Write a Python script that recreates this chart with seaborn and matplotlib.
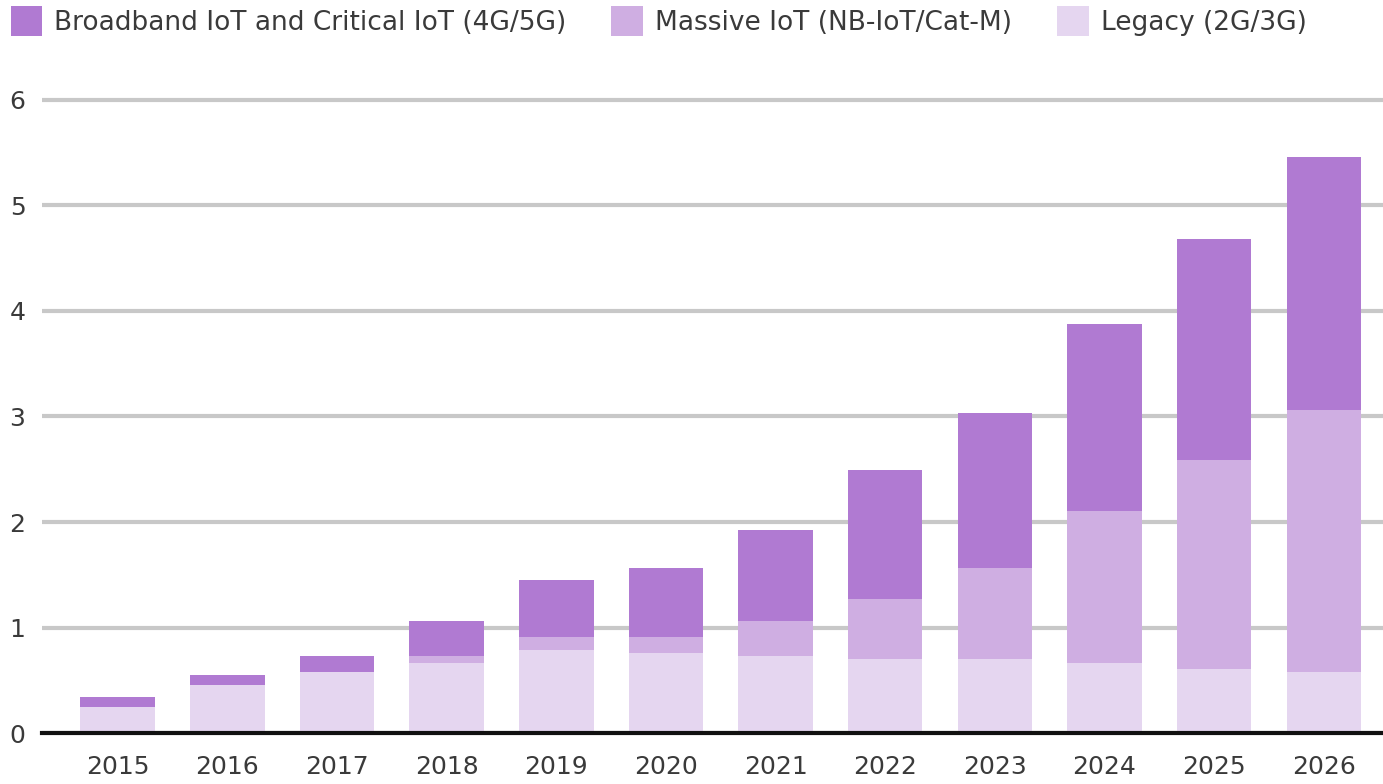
import numpy as np
import pandas as pd
import seaborn as sns
import matplotlib.pyplot as plt
from matplotlib.patches import Patch

years = ["2015", "2016", "2017", "2018", "2019", "2020",
         "2021", "2022", "2023", "2024", "2025", "2026"]
legacy = [0.25, 0.455, 0.58, 0.66, 0.79, 0.76, 0.73, 0.70, 0.70, 0.66, 0.61, 0.58]
massive = [0.0, 0.0, 0.0, 0.07, 0.12, 0.15, 0.33, 0.57, 0.86, 1.44, 1.98, 2.48]
broadband = [0.09, 0.095, 0.15, 0.33, 0.54, 0.65, 0.86, 1.22, 1.47, 1.78, 2.09, 2.40]

labels = ["Broadband IoT and Critical IoT (4G/5G)",
          "Massive IoT (NB-IoT/Cat-M)",
          "Legacy (2G/3G)"]
colors = ["#b07ad2", "#cfaee2", "#e5d6f0"]
text_color = "#3a3a3a"

df = pd.DataFrame({"year": years, "legacy": legacy,
                   "massive": massive, "broadband": broadband})
df["mid"] = df["legacy"] + df["massive"]
df["total"] = df["mid"] + df["broadband"]

sns.set_style("white")
plt.rcParams["font.family"] = ["DejaVu Sans"]

fig = plt.figure(figsize=(13.83, 7.84), dpi=100)
ax = fig.add_axes([0.0304, 0.065, 0.9696, 0.821])

# stacked bars: draw cumulative totals from the top down
sns.barplot(data=df, x="year", y="total", color=colors[0], width=0.68,
            saturation=1, ax=ax)
sns.barplot(data=df, x="year", y="mid", color=colors[1], width=0.68,
            saturation=1, ax=ax)
sns.barplot(data=df, x="year", y="legacy", color=colors[2], width=0.68,
            saturation=1, ax=ax)
for p in ax.patches:
    p.set_edgecolor("none")

ax.set_ylim(0, 6.1)
ax.set_xlim(-0.69, 11.54)
ax.set_yticks(range(0, 7))
ax.set_xlabel("")
ax.set_ylabel("")

ax.yaxis.grid(True, color="#c8c8c8", linewidth=3)
ax.set_axisbelow(True)
for s in ["top", "right", "left"]:
    ax.spines[s].set_visible(False)
ax.spines["bottom"].set_color("#111111")
ax.spines["bottom"].set_linewidth(3)

ax.tick_params(axis="both", length=0, labelsize=18, colors=text_color)
ax.tick_params(axis="y", pad=12)
ax.tick_params(axis="x", pad=16)

handles = [Patch(facecolor=c, edgecolor="none", label=l) for c, l in zip(colors, labels)]
fig.legend(handles=handles, loc="upper left", bbox_to_anchor=(0.0, 1.006),
           ncol=3, frameon=False, fontsize=19, labelcolor=text_color,
           handlelength=1.21, handleheight=1.4, handletextpad=0.45,
           columnspacing=1.7, borderaxespad=0.0)

fig.savefig("out.png", dpi=100)
